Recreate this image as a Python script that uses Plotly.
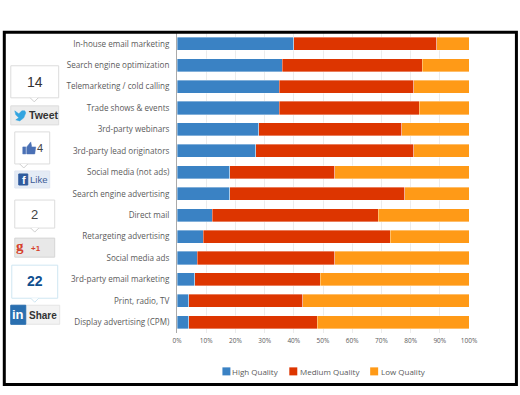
import plotly.graph_objects as go

categories = ["In-house email marketing", "Search engine optimization", "Telemarketing / cold calling",
              "Trade shows & events", "3rd-party webinars", "3rd-party lead originators",
              "Social media (not ads)", "Search engine advertising", "Direct mail",
              "Retargeting advertising", "Social media ads", "3rd-party email marketing",
              "Print, radio, TV", "Display advertising (CPM)"]
high = [40, 36, 35, 35, 28, 27, 18, 18, 12, 9, 7, 6, 4, 4]
medium = [49, 48, 46, 48, 49, 54, 36, 60, 57, 64, 47, 43, 39, 44]
low = [11, 16, 19, 17, 23, 19, 46, 22, 31, 27, 46, 51, 57, 52]
x_ticks = list(range(0, 101, 10))
x_tick_labels = [f"{t}%" for t in x_ticks]
series_names = ["High Quality", "Medium Quality", "Low Quality"]
series_colors = ["#3a82c4", "#dd3500", "#ff9a17"]

W, H = 520, 395
L, R, T, B = 176.5, 469, 33.3, 332.7
FONT = "Open Sans"
GREY = "#5a5a5a"

fig = go.Figure()
for name, vals, col in zip(series_names, [high, medium, low], series_colors):
    fig.add_bar(y=categories, x=vals, name=name, orientation="h",
                marker=dict(color=col, line=dict(color="rgba(255,255,255,0.6)", width=0.6)))


def px(x):
    return (x - L) / (R - L)


def py(y):
    return (B - y) / (B - T)


shapes = []
annots = []


def rect(x0, y0, x1, y1, fill="white", line="#dcdcdc", lw=1, layer="above"):
    shapes.append(dict(type="rect", xref="paper", yref="paper", x0=px(x0), x1=px(x1),
                       y0=py(y1), y1=py(y0), fillcolor=fill, line=dict(color=line, width=lw),
                       layer=layer))


def text(x, y, s, size, color, bold=False, family=FONT, anchor="center"):
    annots.append(dict(xref="paper", yref="paper", x=px(x), y=py(y), text=f"<b>{s}</b>" if bold else s,
                       showarrow=False, font=dict(size=size, color=color, family=family),
                       xanchor=anchor, yanchor="middle", xshift=0, borderpad=0, borderwidth=0))


def caret(x, y, line="#cfcfcf"):
    p = f"M{px(x-4)},{py(y)} L{px(x)},{py(y+4)} L{px(x+4)},{py(y)}"
    shapes.append(dict(type="path", xref="paper", yref="paper", path=p,
                       line=dict(color=line, width=1), fillcolor="white"))


def poly(points, fill):
    p = "M" + " L".join(f"{px(a)},{py(b)}" for a, b in points) + " Z"
    shapes.append(dict(type="path", xref="paper", yref="paper", path=p,
                       line=dict(color=fill, width=0.5), fillcolor=fill))


# outer frame
rect(3.5, 32.5, 516.5, 384, fill="rgba(0,0,0,0)", line="black", lw=3)

# legend, drawn so that it does not push the plot area
for name, col, sq_x, tx_x in zip(series_names, series_colors, [222, 289, 370], [232, 300, 381]):
    rect(sq_x, 367, sq_x + 8, 375, fill=col, line=col, lw=0)
    text(tx_x, 371, name, 8, GREY, anchor="left")

# tweet
rect(10, 66, 58, 98); caret(33.5, 98)
text(34, 82, "14", 14, "#333333", family="Liberation Sans")
rect(10, 106, 58, 125, fill="#ececec", line="#dddddd")
poly([(14, 111), (18, 114), (21, 111), (24, 111), (25, 113), (23, 118), (19, 121), (15, 120),
      (18, 118), (15, 115)], "#33a5e0")
text(42.5, 115.5, "Tweet", 10.5, "#333333", bold=True, family="Liberation Sans")

# like
rect(14, 132, 49, 164); caret(23, 164)
poly([(22, 147), (25, 147), (25, 154), (22, 154)], "#4a70b5")
poly([(26, 147), (30, 142), (31, 147), (35, 147), (34, 154), (26, 154)], "#4a70b5")
text(39, 148, "4", 11, "#444444", family="Liberation Sans")
rect(14, 171, 49, 188, fill="#e4ebf5", line="#dfe5f0")
rect(18, 174, 27, 185, fill="#2f5b9e", line="#2f5b9e")
text(23, 180, "f", 11, "white", bold=True, family="Liberation Sans")
text(38, 180, "Like", 9.5, "#3b5a96", family="Liberation Sans")

# google
rect(14, 200, 54, 228); caret(34, 228)
text(34, 214, "2", 13, "#444444", family="Liberation Sans")
rect(14, 238, 54, 257, fill="#e8e8e8", line="#d5d5d5")
text(19, 246, "g", 15, "#d6402b", bold=True, family="Liberation Serif")
text(35, 248, "+1", 8, "#d6402b", bold=True, family="Liberation Sans")

# linkedin
rect(11, 265, 57, 298, line="#cfe6f2"); caret(34, 298, "#cfe6f2")
text(34, 281, "22", 14, "#0f4f8f", bold=True, family="Liberation Sans")
rect(10, 305, 59, 324, fill="#f3f3f3", line="#e4e4e4")
rect(10, 305, 25, 324, fill="#2a6fb0", line="#2a6fb0")
text(17.5, 314.5, "in", 13, "white", bold=True, family="Liberation Sans")
text(42, 315, "Share", 10, "#333333", bold=True, family="Liberation Sans")

fig.update_layout(
    width=W, height=H, autosize=False, barmode="stack", bargap=0.39,
    paper_bgcolor="white", plot_bgcolor="white",
    margin=dict(l=L, r=W - R, t=T, b=H - B, pad=0),
    font=dict(family=FONT, color=GREY, size=8),
    shapes=shapes, annotations=annots, showlegend=False,
    xaxis=dict(range=[0, 100], tickvals=x_ticks, ticktext=x_tick_labels, showgrid=True,
               gridcolor="#ececec", gridwidth=1, zeroline=False, showline=False,
               tickfont=dict(size=6.5, color=GREY), ticks="", ticklen=0, automargin=False,
               ticklabelstandoff=2),
    yaxis=dict(autorange="reversed", categoryorder="array", categoryarray=categories,
               showline=True, linecolor="#aaaaaa", linewidth=1, ticks="",
               tickfont=dict(size=8.1, color=GREY), automargin=False, ticklabelstandoff=5),
)

fig.write_html("out.html", include_plotlyjs=True, config=dict(displayModeBar=False),
               post_script="document.body.style.margin='0';")
